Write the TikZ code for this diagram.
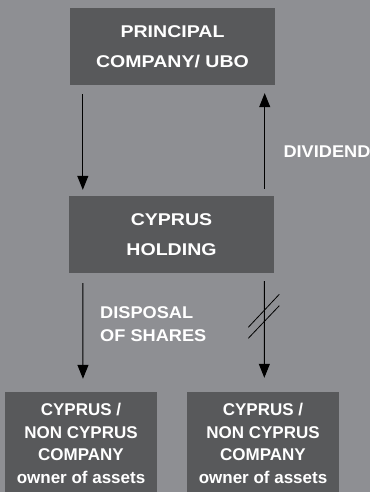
\documentclass[tikz,border=0pt]{standalone}
\usepackage{fontspec}
\setmainfont{Liberation Sans}
\newfontfamily\widesans[FakeStretch=1.15]{Liberation Sans}
\newfontfamily\midsans[FakeStretch=1.07]{Liberation Sans}
\usetikzlibrary{arrows.meta}
\definecolor{bg}{HTML}{8E8F93}
\definecolor{boxc}{HTML}{58595B}
\tikzset{
  box/.style={fill=boxc, inner sep=0pt, align=center, text=white},
  bigbox/.style={box, minimum width=205pt, minimum height=77pt,
    font=\widesans\bfseries\fontsize{17}{30}\selectfont},
  smallbox/.style={box, minimum width=152pt, minimum height=103pt,
    font=\bfseries\fontsize{17}{22.5}\selectfont},
  lbl/.style={text=white, inner sep=0pt, anchor=west, align=left,
    font=\midsans\bfseries\fontsize{17}{23.3}\selectfont},
  arr/.style={draw=black, line width=1pt, -{Triangle[length=14pt,width=11pt]}},
  slash/.style={draw=black, line width=0.8pt}
}
\begin{document}
\begin{tikzpicture}[x=1pt,y=-1pt]
\useasboundingbox[fill=bg] (0,0) rectangle (370,492);
\node[bigbox] (top) at (172.5,46.5) {PRINCIPAL\\COMPANY/ UBO};
\node[bigbox] (mid) at (171.5,234.5) {CYPRUS\\HOLDING};
\node[smallbox] (bl) at (81,443.5) {CYPRUS /\\NON CYPRUS\\COMPANY\\owner of assets};
\node[smallbox] (br) at (263,443.5) {CYPRUS /\\NON CYPRUS\\COMPANY\\owner of assets};
\draw[arr, shorten <=9pt, shorten >=6pt] ([xshift=13pt]top.south west) -- ([xshift=14pt]mid.north west);
\draw[arr, shorten <=7pt, shorten >=8pt] ([xshift=-9.5pt]mid.north east) -- ([xshift=-10.5pt]top.south east);
\draw[arr, shorten <=10pt, shorten >=13pt] ([xshift=14pt]mid.south west) -- ([xshift=2pt]bl.north);
\draw[arr, shorten <=8pt, shorten >=14pt] ([xshift=-9.7pt]mid.south east) -- ([xshift=1.3pt]br.north);
\draw[slash] (248.3,327.3) -- (279.3,294.3);
\draw[slash] (248.3,338.3) -- (279.3,305.7);
\node[lbl] (div) at (283.3,152) {DIVIDEND};
\node[lbl] (disp) at (100,324.3) {DISPOSAL\\OF SHARES};
\end{tikzpicture}
\end{document}
